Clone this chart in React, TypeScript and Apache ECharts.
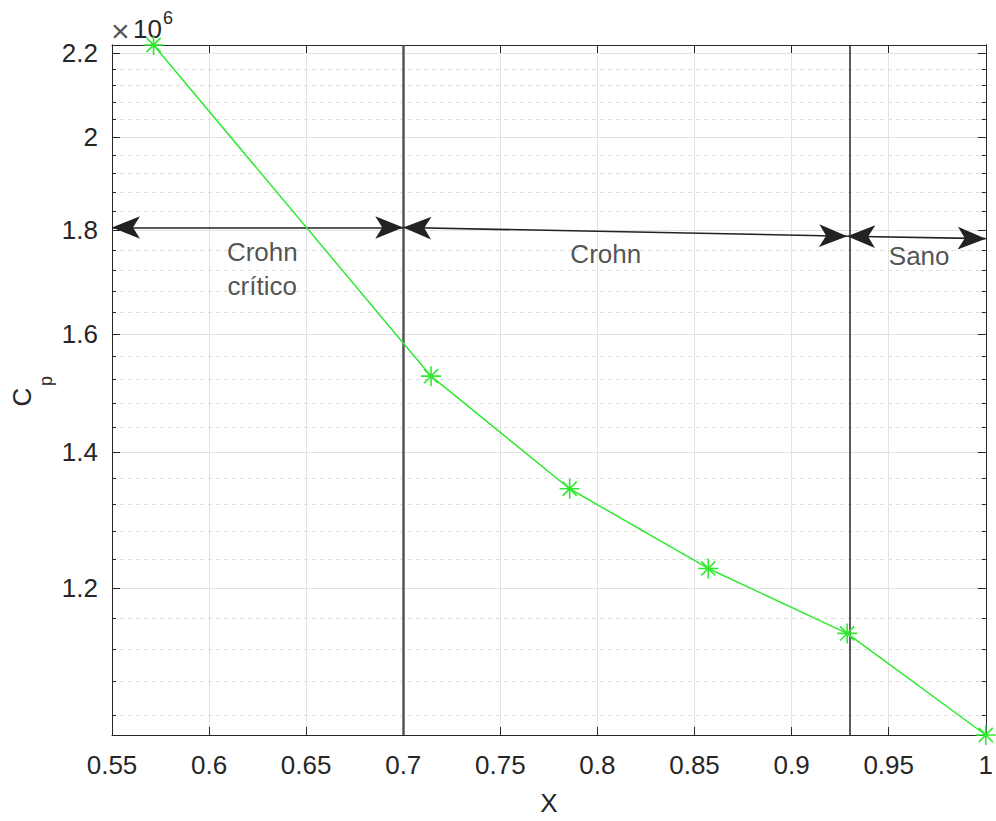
import React, { useEffect, useRef } from "react";
import * as echarts from "echarts";

// ---- data ----
const xValues = [0.5714, 0.7143, 0.7857, 0.8571, 0.9286, 1.0];
const cpValues = [2.22e6, 1.526e6, 1.3434e6, 1.2275e6, 1.1405e6, 1.0166e6];

const xTicks = { min: 0.55, max: 1.0, interval: 0.05 };
const yMajorTicks = [1.2e6, 1.4e6, 1.6e6, 1.8e6, 2.0e6, 2.2e6];
const yMinorTicks = [
  1.04e6, 1.08e6, 1.12e6, 1.16e6,
  1.24e6, 1.28e6, 1.32e6, 1.36e6,
  1.44e6, 1.48e6, 1.52e6, 1.56e6,
  1.64e6, 1.68e6, 1.72e6, 1.76e6,
  1.84e6, 1.88e6, 1.92e6, 1.96e6,
  2.04e6, 2.08e6, 2.12e6, 2.16e6,
];

const boundaryX = [0.7, 0.9286];
// arrows: [x1, y1, x2, y2]
const arrows = [
  [0.55, 1.8056e6, 0.7, 1.8056e6],
  [0.7, 1.8056e6, 0.9286, 1.788e6],
  [0.9286, 1.788e6, 1.0, 1.783e6],
];
const regionLabels = ["Crohn\ncrítico", "Crohn", "Sano"];
const regionLabelX = [0.6274, 0.8043, 0.9657];
const regionLabelY = [1.722e6, 1.753e6, 1.748e6];

const FONT = "'Liberation Sans', Arial, Helvetica, sans-serif";
const TXT = "#262626";
const GREEN = "#2eea2e";

const ASTERISK =
  "path://M0 9.2 L20 9.2 L20 10.8 L0 10.8 Z " +
  "M9.2 0 L10.8 0 L10.8 20 L9.2 20 Z " +
  "M3.5 2.36 L17.64 16.5 L16.5 17.64 L2.36 3.5 Z " +
  "M16.5 2.36 L17.64 3.5 L3.5 17.64 L2.36 16.5 Z";

export default function App() {
  const ref = useRef<HTMLDivElement>(null);

  useEffect(() => {
    if (!ref.current) return;
    const chart = echarts.init(ref.current, null, { renderer: "svg" });
    const yMin = Math.min(...cpValues);
    const yMax = Math.max(...cpValues);

    const baseY = {
      type: "log" as const,
      logBase: 10,
      min: yMin,
      max: yMax,
      axisLine: { show: true, lineStyle: { color: TXT, width: 1 } },
      axisLabel: { show: false },
      splitLine: { show: false },
    };

    const option: any = {
      animation: false,
      backgroundColor: "#ffffff",
      textStyle: { fontFamily: FONT },
      grid: { left: 112, right: 6, top: 45, bottom: 84, containLabel: false },
      xAxis: [
        {
          type: "value",
          position: "bottom",
          min: xTicks.min,
          max: xTicks.max,
          interval: xTicks.interval,
          axisLine: { show: true, lineStyle: { color: TXT, width: 1 } },
          axisTick: { show: true, inside: true, length: 8, lineStyle: { color: TXT } },
          axisLabel: {
            color: TXT,
            fontSize: 26,
            fontFamily: FONT,
            margin: 17,
            formatter: (v: number) => String(+v.toFixed(2)),
          },
          splitLine: { show: true, lineStyle: { color: "#e2e2e2", width: 1 } },
          name: "X",
          nameLocation: "middle",
          nameGap: 55,
          nameTextStyle: { color: TXT, fontSize: 26, fontFamily: FONT },
        },
        {
          type: "value",
          position: "top",
          min: xTicks.min,
          max: xTicks.max,
          interval: xTicks.interval,
          axisLine: { show: true, lineStyle: { color: TXT, width: 1 } },
          axisTick: { show: true, inside: true, length: 8, lineStyle: { color: TXT } },
          axisLabel: { show: false },
          splitLine: { show: false },
        },
      ],
      yAxis: [
        {
          ...baseY,
          position: "left",
          axisTick: { show: true, inside: true, length: 8, customValues: yMajorTicks, lineStyle: { color: TXT } },
          axisLabel: {
            show: true,
            customValues: yMajorTicks,
            color: TXT,
            fontSize: 26,
            fontFamily: FONT,
            margin: 14,
            formatter: (v: number) => String(+(v / 1e6).toFixed(1)),
          },
          splitLine: { show: true, lineStyle: { color: "#e2e2e2", width: 1 } },
        },
        {
          ...baseY,
          position: "left",
          axisTick: { show: true, inside: true, length: 4, customValues: yMinorTicks, lineStyle: { color: TXT } },
          splitLine: { show: true, lineStyle: { color: "#dedede", width: 1, type: [4, 4] } },
        },
        {
          ...baseY,
          position: "right",
          axisTick: { show: true, inside: true, length: 8, customValues: yMajorTicks, lineStyle: { color: TXT } },
        },
        {
          ...baseY,
          position: "right",
          axisTick: { show: true, inside: true, length: 4, customValues: yMinorTicks, lineStyle: { color: TXT } },
        },
      ],
      graphic: [
        { type: "text", left: 111, top: 15, style: { text: "×", fontSize: 32, fontFamily: FONT, fill: "#555555" } },
        { type: "text", left: 133, top: 16, style: { text: "10", fontSize: 26, fontFamily: FONT, fill: TXT } },
        { type: "text", left: 163, top: 9, style: { text: "6", fontSize: 18, fontFamily: FONT, fill: TXT } },
        {
          type: "text",
          x: 22,
          y: 397,
          rotation: Math.PI / 2,
          style: { text: "C", fontSize: 26, fontFamily: FONT, fill: TXT, align: "center", verticalAlign: "middle" },
        },
        {
          type: "text",
          x: 46,
          y: 381,
          rotation: Math.PI / 2,
          style: { text: "p", fontSize: 18, fontFamily: FONT, fill: TXT, align: "center", verticalAlign: "middle" },
        },
      ],
      series: [
        {
          type: "line",
          xAxisIndex: 0,
          yAxisIndex: 0,
          silent: true,
          markLine: {
            silent: true,
            symbol: ["none", "none"],
            label: { show: false },
            data: boundaryX.map((x, i) => ({
              xAxis: x,
              lineStyle: { color: i === 0 ? "#555555" : "#333333", width: i === 0 ? 2.5 : 1.6, type: "solid" },
            })),
          },
          data: [],
        },
        {
          type: "line",
          xAxisIndex: 0,
          yAxisIndex: 0,
          data: xValues.map((x, i) => [x, cpValues[i]]),
          symbol: ASTERISK,
          symbolSize: 20,
          showAllSymbol: true,
          clip: false,
          lineStyle: { color: GREEN, width: 1.5 },
          itemStyle: { color: GREEN },
          z: 5,
        },
        {
          type: "scatter",
          xAxisIndex: 0,
          yAxisIndex: 0,
          symbolSize: 0,
          silent: true,
          data: regionLabels.map((t, i) => ({ value: [regionLabelX[i], regionLabelY[i]], name: t })),
          label: {
            show: true,
            position: "inside",
            formatter: (p: any) => p.name,
            color: TXT,
            fontSize: 26,
            fontFamily: FONT,
            lineHeight: 34,
            align: "center",
            verticalAlign: "middle",
          },
          markLine: {
            silent: true,
            symbol: ["arrow", "arrow"],
            symbolSize: [17, 28],
            label: { show: false },
            lineStyle: { color: "#222222", width: 1.6, type: "solid" },
            data: arrows.map((a) => [
              { coord: [a[0], a[1]] },
              { coord: [a[2], a[3]] },
            ]),
          },
          z: 6,
        },
      ],
    };

    chart.setOption(option);
    return () => chart.dispose();
  }, []);

  return (
    <div
      ref={ref}
      style={{ position: "fixed", left: 0, top: 0, width: 996, height: 821, background: "#fff" }}
    />
  );
}
